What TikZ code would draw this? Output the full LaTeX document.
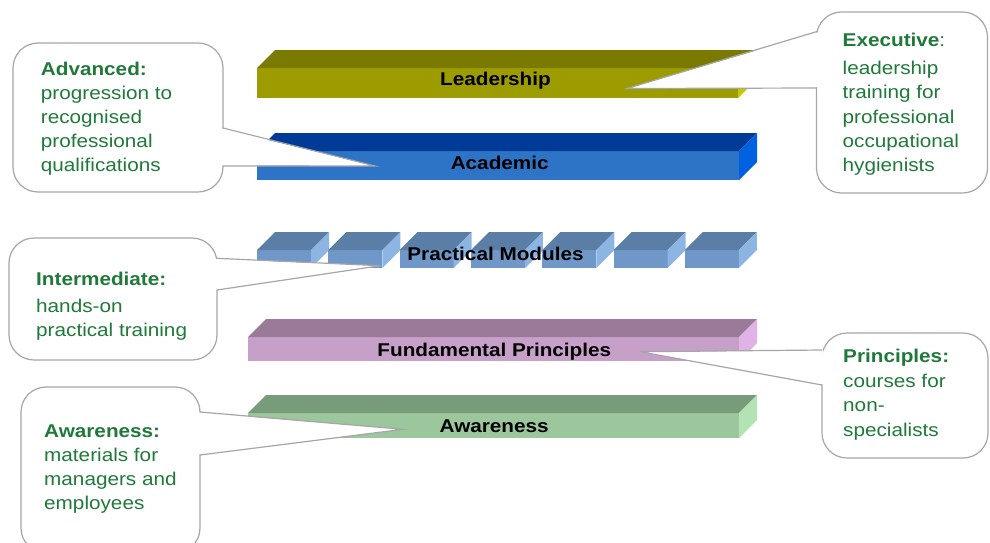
\documentclass[tikz,border=0pt]{standalone}
\usepackage{fontspec}
\setmainfont{Liberation Sans}[FakeStretch=1.12]
\definecolor{ldF}{HTML}{9C9C00}\definecolor{ldT}{HTML}{7A7A00}\definecolor{ldR}{HTML}{C4C800}
\definecolor{acF}{HTML}{2E74C6}\definecolor{acT}{HTML}{003C97}\definecolor{acR}{HTML}{0062E0}
\definecolor{pmF}{HTML}{6F97C8}\definecolor{pmT}{HTML}{5B7EA6}\definecolor{pmR}{HTML}{8CB5E3}
\definecolor{fpF}{HTML}{C7A0CA}\definecolor{fpT}{HTML}{9A7A99}\definecolor{fpR}{HTML}{E0B2E5}
\definecolor{awF}{HTML}{9CC79C}\definecolor{awT}{HTML}{789C7A}\definecolor{awR}{HTML}{B3E2B3}
\definecolor{txtgreen}{HTML}{1F7A3A}
\definecolor{callgray}{HTML}{A6A6A6}
% slab: x-left, x-right, front-top y, front-bottom y, front, top, right colours
\newcommand\slab[7]{%
  \fill[#5] (#1,#3) rectangle (#2,#4);
  \fill[#6] (#1,#3) -- ++(18,-18) -- (#2+18,#3-18) -- (#2,#3) -- cycle;
  \fill[#7] (#2,#3) -- ++(18,-18) -- (#2+18,#4-18) -- (#2,#4) -- cycle;
}
\begin{document}
\begin{tikzpicture}[x=1pt,y=-1pt,
  callbox/.style={draw=callgray, line width=1.2pt, fill=white, rounded corners=25pt,
    inner sep=0pt, outer sep=0pt},
  wedgeline/.style={draw=callgray, line width=1.2pt, line join=miter},
  ctext/.style={anchor=base west, inner sep=0pt, text=txtgreen,
    font=\fontsize{18.5}{24}\selectfont},
  ctitle/.style={ctext, font=\fontsize{18.5}{24}\selectfont\bfseries},
  barlabel/.style={anchor=base, inner sep=0pt, text=black,
    font=\fontsize{18.5}{22}\selectfont\bfseries}]
\useasboundingbox (0,0) rectangle (990,542);
\fill[white] (0,0) rectangle (990,542);

% ---- bars ----
\slab{257}{738}{68}{98}{ldF}{ldT}{ldR}
\slab{257}{739}{151}{180}{acF}{acT}{acR}
\foreach \i in {0,...,6}{
  \pgfmathsetmacro\xa{257+\i*71.33}
  \pgfmathsetmacro\xb{\xa+54}
  \slab{\xa}{\xb}{250}{268}{pmF}{pmT}{pmR}
}
\slab{248}{739}{337}{361}{fpF}{fpT}{fpR}
\slab{248}{739}{413}{438}{awF}{awT}{awR}

% ---- callout: Advanced ----
\node[callbox, minimum width=210pt, minimum height=149pt] (advbox) at (118,117.5) {};
\coordinate (advA) at (223,128);
\coordinate (advB) at (223,166);
\coordinate (advT) at (375,166);
\fill[white] (221.5,128.6) -- (advT) -- (221.5,165.4) -- cycle;
\draw[wedgeline] (advA) -- (advT) -- (advB);

% ---- callout: Executive ----
\node[callbox, minimum width=171pt, minimum height=181pt] (exebox) at (902,102.5) {};
\coordinate (exeA) at (817,31.5);
\coordinate (exeB) at (817,88);
\coordinate (exeT) at (627,88.5);
\fill[white] (818.5,32.2) -- (exeT) -- (818.5,87.4) -- cycle;
\draw[wedgeline] (exeA) -- (exeT) -- (exeB);

% ---- callout: Intermediate ----
\node[callbox, minimum width=208pt, minimum height=122pt] (intbox) at (113,299) {};
\coordinate (intA) at (217,258.3);
\coordinate (intB) at (217,290);
\coordinate (intT) at (380,265.7);
\fill[white] (215.5,258.9) -- (intT) -- (215.5,289.4) -- cycle;
\draw[wedgeline] (intA) -- (intT) -- (intB);

% ---- callout: Awareness ----
\node[callbox, minimum width=179pt, minimum height=166pt] (awabox) at (110.5,470) {};
\coordinate (awaA) at (200,412);
\coordinate (awaB) at (200,455);
\coordinate (awaT) at (403,429.3);
\fill[white] (198.5,412.6) -- (awaT) -- (198.5,454.4) -- cycle;
\draw[wedgeline] (awaA) -- (awaT) -- (awaB);

% ---- callout: Principles ----
\node[callbox, minimum width=166pt, minimum height=125pt] (pribox) at (905,395.5) {};
\coordinate (priA) at (822,350);
\coordinate (priB) at (822,385);
\coordinate (priT) at (640,351.7);
\fill[white] (823.5,350.6) -- (priT) -- (823.5,384.4) -- cycle;
\draw[wedgeline] (priA) -- (priT) -- (priB);

% ---- bar labels ----
\node[barlabel] (lLead) at (495.5,85) {Leadership};
\node[barlabel] (lAcad) at (499.7,169.3) {Academic};
\node[barlabel] (lPrac) at (495.5,260) {Practical Modules};
\node[barlabel] (lFund) at (494.3,356.7) {Fundamental Principles};
\node[barlabel] (lAwar) at (494.2,432.7) {Awareness};

% ---- callout texts ----
\node[ctitle] (adv1) at (40.7,75) {Advanced:};
\node[ctext] (adv2) at (40.7,99.2) {progression to};
\node[ctext] (adv3) at (40.7,123.4) {recognised};
\node[ctext] (adv4) at (40.7,147.6) {professional};
\node[ctext] (adv5) at (40.7,171.8) {qualifications};

\node[ctext] (exe1) at (842.5,46.3) {\textbf{Executive}:};
\node[ctext] (exe2) at (842.5,74.7) {leadership};
\node[ctext] (exe3) at (842.5,98.9) {training for};
\node[ctext] (exe4) at (842.5,123.1) {professional};
\node[ctext] (exe5) at (842.5,147.3) {occupational};
\node[ctext] (exe6) at (842.5,171.5) {hygienists};

\node[ctitle] (int1) at (36,285) {Intermediate:};
\node[ctext] (int2) at (36,312.5) {hands-on};
\node[ctext] (int3) at (36,336.5) {practical training};

\node[ctitle] (awa1) at (44,437.5) {Awareness:};
\node[ctext] (awa2) at (44,461.5) {materials for};
\node[ctext] (awa3) at (44,485.5) {managers and};
\node[ctext] (awa4) at (44,509.5) {employees};

\node[ctitle] (pri1) at (843,362.5) {Principles:};
\node[ctext] (pri2) at (843,387) {courses for};
\node[ctext] (pri3) at (843,411.5) {non-};
\node[ctext] (pri4) at (843,436) {specialists};
\end{tikzpicture}
\end{document}
